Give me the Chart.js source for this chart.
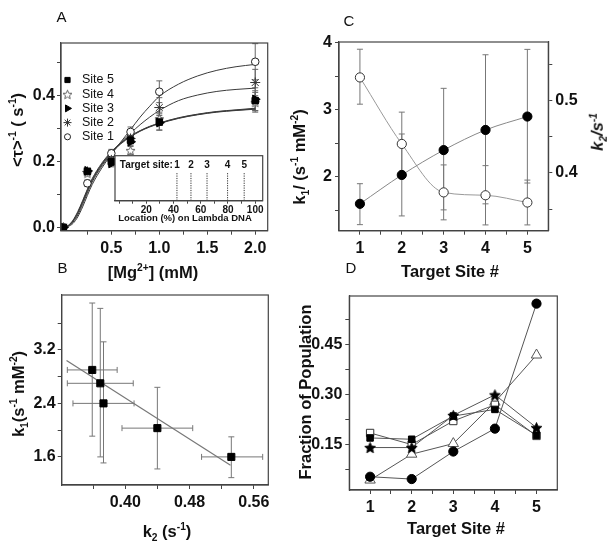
<!DOCTYPE html>
<html lang="en">
<head>
<meta charset="UTF-8">
<title>Target site kinetics</title>
<script src="https://cdn.jsdelivr.net/npm/chart.js"></script>
<style>
  body { margin: 0; background: #fff; font-family: 'Liberation Sans', Arial, sans-serif; }
  .page { position: relative; width: 615px; height: 556px; overflow: hidden; background: #fff; }
  canvas { position: absolute; }
  .txt { position: absolute; white-space: nowrap; color: #111; line-height: 1; transform: translate(-50%, -50%); }
  .lbl { font-size: 15px; }
  .ttl { font-size: 16.5px; font-weight: bold; }
  .rot { transform: translate(-50%, -50%) rotate(-90deg); }
  .small { font-size: 9.5px; font-weight: bold; font-family: 'Liberation Sans Narrow', 'Arial Narrow', 'Liberation Sans', sans-serif; }
  sup, sub { font-size: 0.62em; line-height: 0; }
</style>
</head>
<body>
<div class="page">
  <canvas id="cA" width="300" height="290" style="left:0;top:0"></canvas>
  <canvas id="cB" width="300" height="276" style="left:0;top:280px"></canvas>
  <canvas id="cC" width="315" height="290" style="left:300px;top:0"></canvas>
  <canvas id="cD" width="315" height="276" style="left:300px;top:280px"></canvas>
  <canvas id="cInset" width="160" height="80" style="left:110px;top:150px"></canvas>

  <div class="txt lbl" style="left:61.5px;top:15.5px">A</div>
  <div class="txt lbl" style="left:62.5px;top:267px">B</div>
  <div class="txt lbl" style="left:349px;top:20px">C</div>
  <div class="txt lbl" style="left:351px;top:267px">D</div>

  <div class="txt ttl rot" style="left:17px;top:130px">&lt;τ&gt;<sup>-1</sup> ( s<sup>-1</sup>)</div>
  <div class="txt ttl" style="left:153px;top:272px">[Mg<sup>2+</sup>] (mM)</div>
  <div class="txt small" style="left:185px;top:218px">Location (%) on Lambda DNA</div>

  <div class="txt ttl rot" style="left:18px;top:394px">k<sub>1</sub>(s<sup>-1</sup> mM<sup>-2</sup>)</div>
  <div class="txt ttl" style="left:167px;top:531px">k<sub>2</sub> (s<sup>-1</sup>)</div>

  <div class="txt ttl rot" style="left:299px;top:157px">k<sub>1</sub>/ (s<sup>-1</sup> mM<sup>-2</sup>)</div>
  <div class="txt ttl rot" style="left:597px;top:132px;font-style:italic">k<sub>2</sub>/s<sup>-1</sup></div>
  <div class="txt ttl" style="left:450px;top:271px">Target Site #</div>

  <div class="txt ttl rot" style="left:305px;top:392px">Fraction of Population</div>
  <div class="txt ttl" style="left:456px;top:528px">Target Site #</div>
</div>

<script>
// ---- panel A: rate vs Mg2+ ----
const mgConc = [0, 0.25, 0.5, 0.7, 1.0, 2.0];
const rateSite1 = [0, 0.134, 0.225, 0.29, 0.412, 0.503];
const rateSite2 = [0, 0.17, 0.205, 0.27, 0.364, 0.44];
const rateSite3 = [0, 0.172, 0.194, 0.26, 0.318, 0.389];
const rateSite4 = [0, 0.165, 0.2, 0.234, 0.33, 0.38];
const rateSite5 = [0, 0.17, 0.2, 0.265, 0.32, 0.385];
const errSite1 = [0, 0.01, 0.012, 0.015, 0.033, 0.055];
const errSite2 = [0, 0.008, 0.01, 0.012, 0.03, 0.04];
const errSite3 = [0, 0.008, 0.01, 0.012, 0.022, 0.035];
const errSite4 = [0, 0.008, 0.01, 0.012, 0.02, 0.03];
const errSite5 = [0, 0.008, 0.01, 0.012, 0.025, 0.03];

// fitted curves
const fitMg = [0, 0.05, 0.1, 0.15, 0.2, 0.25, 0.3, 0.4, 0.5, 0.6, 0.7, 0.8, 0.9, 1.0, 1.2, 1.4, 1.6, 1.8, 2.0];
const fitSite1 = [0, 0.003, 0.012, 0.032, 0.062, 0.097, 0.13, 0.18, 0.222, 0.26, 0.297, 0.335, 0.368, 0.398, 0.435, 0.46, 0.477, 0.488, 0.495];
const fitSite2 = [0, 0.004, 0.016, 0.038, 0.07, 0.105, 0.138, 0.186, 0.225, 0.258, 0.286, 0.312, 0.335, 0.355, 0.385, 0.402, 0.413, 0.419, 0.423];
const fitSite3 = [0, 0.005, 0.02, 0.045, 0.078, 0.113, 0.145, 0.192, 0.228, 0.256, 0.277, 0.293, 0.306, 0.316, 0.332, 0.343, 0.351, 0.356, 0.36];
const fitSite4 = [0, 0.005, 0.019, 0.043, 0.076, 0.11, 0.142, 0.19, 0.226, 0.254, 0.275, 0.292, 0.305, 0.315, 0.331, 0.342, 0.35, 0.355, 0.359];
const fitSite5 = [0, 0.006, 0.022, 0.048, 0.081, 0.116, 0.148, 0.195, 0.23, 0.257, 0.278, 0.294, 0.307, 0.317, 0.333, 0.344, 0.352, 0.357, 0.362];

const siteNames = ['Site 1', 'Site 2', 'Site 3', 'Site 4', 'Site 5'];

// inset: target positions on lambda DNA (%)
const targetLocation = [42.5, 52.8, 64.6, 79.7, 91.9];
const targetNames = ['1', '2', '3', '4', '5'];

// ---- panels B and C: k1, k2 per target site ----
const siteNum = [1, 2, 3, 4, 5];
const k1 = [1.60, 2.03, 2.40, 2.70, 2.90];
const k1Low = [1.29, 1.42, 1.51, 1.60, 1.91];
const k1High = [1.90, 2.64, 3.32, 3.82, 3.90];
const k2 = [0.532, 0.440, 0.373, 0.369, 0.359];
const k2Low = [0.495, 0.396, 0.335, 0.328, 0.328];
const k2High = [0.571, 0.484, 0.411, 0.410, 0.390];
const lineK2 = [0.327, 0.531];
const lineK1 = [3.04, 1.475];

// ---- panel D: fraction of population ----
const fracCircle = [0.052, 0.045, 0.128, 0.197, 0.574];
const fracTriangle = [0.042, 0.12, 0.152, 0.277, 0.419];
const fracStar = [0.14, 0.14, 0.237, 0.299, 0.2];
const fracSquare = [0.169, 0.165, 0.235, 0.255, 0.177];
const fracOpenSquare = [0.184, 0.149, 0.22, 0.269, 0.175];

// tick positions and labelled ticks
const ticksAx = [0.25, 0.5, 0.75, 1.0, 1.25, 1.5, 1.75, 2.0];
const labelsAx = [0.5, 1.0, 1.5, 2.0];
const ticksAy = [0, 0.1, 0.2, 0.3, 0.4, 0.5];
const labelsAy = [0, 0.2, 0.4];
const ticksInset = [0, 10, 20, 30, 40, 50, 60, 70, 80, 90, 100];
const labelsInset = [20, 40, 60, 80, 100];
const ticksBx = [0.36, 0.40, 0.44, 0.48, 0.52, 0.56];
const labelsBx = [0.40, 0.48, 0.56];
const ticksBy = [1.6, 2.0, 2.4, 2.8, 3.2, 3.6];
const labelsBy = [1.6, 2.4, 3.2];
const ticksSite = [1, 1.5, 2, 2.5, 3, 3.5, 4, 4.5, 5];
const ticksCy = [1.5, 2, 2.5, 3, 3.5, 4];
const labelsCy = [2, 3, 4];
const ticksCy2 = [0.35, 0.4, 0.45, 0.5, 0.55];
const labelsCy2 = [0.4, 0.5];
const ticksDy = [0.075, 0.15, 0.225, 0.3, 0.375, 0.45, 0.525];
const labelsDy = [0.15, 0.3, 0.45];

const FONT = "'Liberation Sans', Arial, sans-serif";
const NARROW = "'Liberation Sans Narrow', 'Arial Narrow', 'Liberation Sans', sans-serif";

Chart.defaults.animation = false;
Chart.defaults.font.family = FONT;
Chart.defaults.color = '#111';
Chart.defaults.plugins.legend.display = false;
Chart.defaults.plugins.tooltip.enabled = false;

const pts = (xs, ys) => xs.map((x, i) => ({ x: x, y: ys[i] }));

function starImage(size, fill, stroke) {
    const c = document.createElement('canvas');
    c.width = c.height = size;
    const g = c.getContext('2d');
    const R = size / 2 - 0.8, r = R * 0.45;
    g.beginPath();
    for (let k = 0; k < 10; k++) {
        const a = -Math.PI / 2 + k * Math.PI / 5;
        const rr = k % 2 ? r : R;
        g.lineTo(size / 2 + rr * Math.cos(a), size / 2 + 0.6 + rr * Math.sin(a));
    }
    g.closePath();
    g.fillStyle = fill;
    g.fill();
    g.strokeStyle = stroke;
    g.lineWidth = 0.9;
    g.stroke();
    return c;
}

function axis(o) {
    return {
        type: 'linear',
        position: o.position,
        min: o.min,
        max: o.max,
        display: o.display !== false,
        afterBuildTicks: s => { s.ticks = o.ticks.map(v => ({ value: v })); },
        afterFit: s => { if (o.horizontal) s.height = o.size; else s.width = o.size; },
        ticks: {
            autoSkip: false,
            maxRotation: 0,
            padding: o.pad !== undefined ? o.pad : 3,
            color: '#111',
            font: { family: o.family || FONT, size: o.fontSize || 16, weight: 'bold' },
            callback: v => o.labels.some(l => Math.abs(l - v) < 1e-9) ? v.toFixed(o.digits) : ''
        },
        grid: { drawOnChartArea: false, tickLength: o.tickLength || 4, color: '#444', lineWidth: 1 },
        border: { color: '#444', width: 1.2 }
    };
}

// box around the plot area
const frame = {
    id: 'frame',
    afterDatasetsDraw(chart) {
        const { ctx, chartArea: a } = chart;
        ctx.save();
        ctx.strokeStyle = '#444';
        ctx.lineWidth = 1.2;
        ctx.strokeRect(a.left, a.top, a.right - a.left, a.bottom - a.top);
        ctx.restore();
    }
};

// error bars from yErr / yLo,yHi / xLo,xHi on a dataset
const errorBars = {
    id: 'errorBars',
    beforeDatasetsDraw(chart) {
        const ctx = chart.ctx;
        chart.data.datasets.forEach((ds, i) => {
            if (!ds.yErr && !ds.yLo && !ds.xLo) return;
            const meta = chart.getDatasetMeta(i);
            const xs = chart.scales[meta.xAxisID];
            const ys = chart.scales[meta.yAxisID];
            const cap = ds.capSize || 3;
            ctx.save();
            ctx.strokeStyle = ds.errColor || '#777';
            ctx.lineWidth = 1;
            ctx.beginPath();
            ds.data.forEach((p, j) => {
                const px = xs.getPixelForValue(p.x);
                const py = ys.getPixelForValue(p.y);
                let lo = null, hi = null;
                if (ds.yErr) { lo = p.y - ds.yErr[j]; hi = p.y + ds.yErr[j]; }
                if (ds.yLo) { lo = ds.yLo[j]; hi = ds.yHi[j]; }
                if (lo !== null && hi > lo) {
                    const a = ys.getPixelForValue(lo), b = ys.getPixelForValue(hi);
                    ctx.moveTo(px, a); ctx.lineTo(px, b);
                    ctx.moveTo(px - cap, a); ctx.lineTo(px + cap, a);
                    ctx.moveTo(px - cap, b); ctx.lineTo(px + cap, b);
                }
                if (ds.xLo) {
                    const a = xs.getPixelForValue(ds.xLo[j]), b = xs.getPixelForValue(ds.xHi[j]);
                    ctx.moveTo(a, py); ctx.lineTo(b, py);
                    ctx.moveTo(a, py - cap); ctx.lineTo(a, py + cap);
                    ctx.moveTo(b, py - cap); ctx.lineTo(b, py + cap);
                }
            });
            ctx.stroke();
            ctx.restore();
        });
    }
};

// ---------------- panel A ----------------
const openStar = starImage(11, '#fff', '#555');
const filledStar = starImage(13, '#000', '#000');

const siteStyles = [
    { pointStyle: 'circle', radius: 3.8, bg: '#fff', border: '#222', rotation: 0 },
    { pointStyle: 'star', radius: 5, bg: '#fff', border: '#333', rotation: 0 },
    { pointStyle: 'triangle', radius: 5, bg: '#000', border: '#000', rotation: 90 },
    { pointStyle: openStar, radius: 5, bg: '#fff', border: '#555', rotation: 0 },
    { pointStyle: 'rect', radius: 4.6, bg: '#000', border: '#000', rotation: 0 }
];
const rates = [rateSite1, rateSite2, rateSite3, rateSite4, rateSite5];
const errs = [errSite1, errSite2, errSite3, errSite4, errSite5];
const fits = [fitSite1, fitSite2, fitSite3, fitSite4, fitSite5];

const aDatasets = [];
[4, 2, 3, 1, 0].forEach(i => {
    const st = siteStyles[i];
    aDatasets.push({
        label: siteNames[i],
        data: pts(mgConc, rates[i]),
        yErr: errs[i],
        errColor: '#666',
        showLine: false,
        pointStyle: st.pointStyle,
        pointRadius: st.radius,
        pointRotation: st.rotation,
        pointBackgroundColor: st.bg,
        pointBorderColor: st.border,
        pointBorderWidth: 1,
        order: 0
    });
});
fits.forEach((f, i) => {
    aDatasets.push({
        label: siteNames[i] + ' fit',
        data: pts(fitMg, f),
        showLine: true,
        pointRadius: 0,
        borderColor: '#3a3a3a',
        borderWidth: 1,
        cubicInterpolationMode: 'monotone',
        order: 1
    });
});

const legendA = {
    id: 'legendA',
    afterDatasetsDraw(chart) {
        const { ctx, chartArea: a } = chart;
        ctx.save();
        ctx.font = '12.5px ' + NARROW;
        ctx.textBaseline = 'middle';
        [4, 3, 2, 1, 0].forEach((i, row) => {
            const st = siteStyles[i];
            const y = a.top + 37 + row * 14.2;
            ctx.fillStyle = st.bg;
            ctx.strokeStyle = st.border;
            ctx.lineWidth = 1;
            Chart.helpers.drawPoint(ctx, { pointStyle: st.pointStyle, rotation: st.rotation, radius: st.radius * 0.8, borderWidth: 1 }, a.left + 6.5, y);
            ctx.fillStyle = '#111';
            ctx.fillText(siteNames[i], a.left + 21, y);
        });
        ctx.restore();
    }
};

new Chart(document.getElementById('cA'), {
    type: 'scatter',
    data: { datasets: aDatasets },
    options: {
        responsive: false,
        devicePixelRatio: 1,
        layout: { padding: { top: 43, right: 32.3, left: 0, bottom: 0 } },
        scales: {
            x: axis({ min: -0.025, max: 2.13, ticks: ticksAx, labels: labelsAx, digits: 1, size: 59.3, horizontal: true, pad: 4 }),
            y: axis({ min: -0.01, max: 0.56, ticks: ticksAy, labels: labelsAy, digits: 1, size: 61, pad: 2 })
        }
    },
    plugins: [errorBars, frame, legendA]
});

// ---------------- inset ----------------
const insetBg = {
    id: 'insetBg',
    beforeDraw(chart) {
        const { ctx, chartArea: a } = chart;
        ctx.save();
        ctx.fillStyle = '#fff';
        ctx.fillRect(a.left, a.top, a.right - a.left, a.bottom - a.top);
        ctx.restore();
    }
};
const insetLabels = {
    id: 'insetLabels',
    afterDatasetsDraw(chart) {
        const { ctx, chartArea: a, scales } = chart;
        ctx.save();
        ctx.fillStyle = '#111';
        ctx.textBaseline = 'middle';
        ctx.textAlign = 'center';
        ctx.font = 'bold 10px ' + NARROW;
        const y = a.top + 9.5;
        targetLocation.forEach((loc, i) => ctx.fillText(targetNames[i], scales.x.getPixelForValue(loc), y));
        ctx.textAlign = 'right';
        ctx.fillText('Target site:', scales.x.getPixelForValue(targetLocation[0]) - 4, y);
        ctx.restore();
    }
};
const targetMarkTop = 0.64;
new Chart(document.getElementById('cInset'), {
    type: 'scatter',
    data: {
        datasets: targetLocation.map((loc, i) => ({
            label: 'Target ' + targetNames[i],
            data: [{ x: loc, y: 0 }, { x: loc, y: targetMarkTop }],
            showLine: true,
            pointRadius: 0,
            borderColor: '#333',
            borderWidth: 1,
            borderDash: [1.2, 1.2]
        }))
    },
    options: {
        responsive: false,
        devicePixelRatio: 1,
        layout: { padding: { top: 5.7, left: 5, right: 7.3, bottom: 0 } },
        scales: {
            x: axis({ min: -3, max: 105.5, ticks: ticksInset, labels: labelsInset, digits: 0, size: 29.3, horizontal: true, fontSize: 10, family: NARROW, pad: 1, tickLength: 3 }),
            y: { display: false, min: 0, max: 1 }
        }
    },
    plugins: [insetBg, frame, insetLabels]
});

// ---------------- panel B ----------------
new Chart(document.getElementById('cB'), {
    type: 'scatter',
    data: {
        datasets: [
            {
                label: 'k1 vs k2',
                data: pts(k2, k1),
                yLo: k1Low, yHi: k1High, xLo: k2Low, xHi: k2High,
                errColor: '#777',
                showLine: false,
                pointStyle: 'rect',
                pointRadius: 5,
                pointBackgroundColor: '#000',
                pointBorderColor: '#000',
                order: 0
            },
            {
                label: 'linear fit',
                data: pts(lineK2, lineK1),
                showLine: true,
                pointRadius: 0,
                borderColor: '#777',
                borderWidth: 1.2,
                order: 1
            }
        ]
    },
    options: {
        responsive: false,
        devicePixelRatio: 1,
        layout: { padding: { top: 15, right: 31.7, left: 0, bottom: 0 } },
        scales: {
            x: axis({ min: 0.321, max: 0.578, ticks: ticksBx, labels: labelsBx, digits: 2, size: 71, horizontal: true, pad: 4 }),
            y: axis({ min: 1.18, max: 4.02, ticks: ticksBy, labels: labelsBy, digits: 1, size: 61.7, pad: 2 })
        }
    },
    plugins: [errorBars, frame]
});

// ---------------- panel C ----------------
new Chart(document.getElementById('cC'), {
    type: 'scatter',
    data: {
        datasets: [
            {
                label: 'k1',
                data: pts(siteNum, k1),
                yLo: k1Low, yHi: k1High,
                errColor: '#777',
                showLine: true,
                cubicInterpolationMode: 'monotone',
                borderColor: '#888',
                borderWidth: 1,
                pointRadius: 4.6,
                pointBackgroundColor: '#000',
                pointBorderColor: '#000',
                yAxisID: 'y'
            },
            {
                label: 'k2',
                data: pts(siteNum, k2),
                yLo: k2Low, yHi: k2High,
                errColor: '#777',
                showLine: true,
                cubicInterpolationMode: 'monotone',
                borderColor: '#999',
                borderWidth: 1,
                pointRadius: 4.6,
                pointBackgroundColor: '#fff',
                pointBorderColor: '#333',
                pointBorderWidth: 1,
                yAxisID: 'y2'
            }
        ]
    },
    options: {
        responsive: false,
        devicePixelRatio: 1,
        layout: { padding: { top: 42, right: 0, left: 0, bottom: 0 } },
        scales: {
            x: axis({ min: 0.5, max: 5.5, ticks: ticksSite, labels: siteNum, digits: 0, size: 59.3, horizontal: true, pad: 4 }),
            y: axis({ min: 1.2, max: 4.01, ticks: ticksCy, labels: labelsCy, digits: 0, size: 39, pad: 3 }),
            y2: axis({ position: 'right', min: 0.32, max: 0.581, ticks: ticksCy2, labels: labelsCy2, digits: 1, size: 66.7, pad: 3 })
        }
    },
    plugins: [errorBars, frame]
});

// ---------------- panel D ----------------
const lineD = (label, ys, style, radius, bg, border) => ({
    label: label,
    data: pts(siteNum, ys),
    showLine: true,
    borderColor: '#555',
    borderWidth: 1,
    pointStyle: style,
    pointRadius: radius,
    pointBackgroundColor: bg,
    pointBorderColor: border,
    pointBorderWidth: 1
});
new Chart(document.getElementById('cD'), {
    type: 'scatter',
    data: {
        datasets: [
            lineD('circle', fracCircle, 'circle', 4.6, '#000', '#000'),
            lineD('star', fracStar, filledStar, 6, '#000', '#000'),
            lineD('square', fracSquare, 'rect', 4.6, '#000', '#000'),
            lineD('open square', fracOpenSquare, 'rect', 5.2, '#fff', '#333'),
            lineD('triangle', fracTriangle, 'triangle', 6, '#fff', '#555')
        ]
    },
    options: {
        responsive: false,
        devicePixelRatio: 1,
        layout: { padding: { top: 16, right: 57.7, left: 0, bottom: 0 } },
        scales: {
            x: axis({ min: 0.5, max: 5.5, ticks: ticksSite, labels: siteNum, digits: 0, size: 66, horizontal: true, pad: 4 }),
            y: axis({ min: 0.012, max: 0.597, ticks: ticksDy, labels: labelsDy, digits: 2, size: 49.3, pad: 3 })
        }
    },
    plugins: [frame]
});
</script>
</body>
</html>
